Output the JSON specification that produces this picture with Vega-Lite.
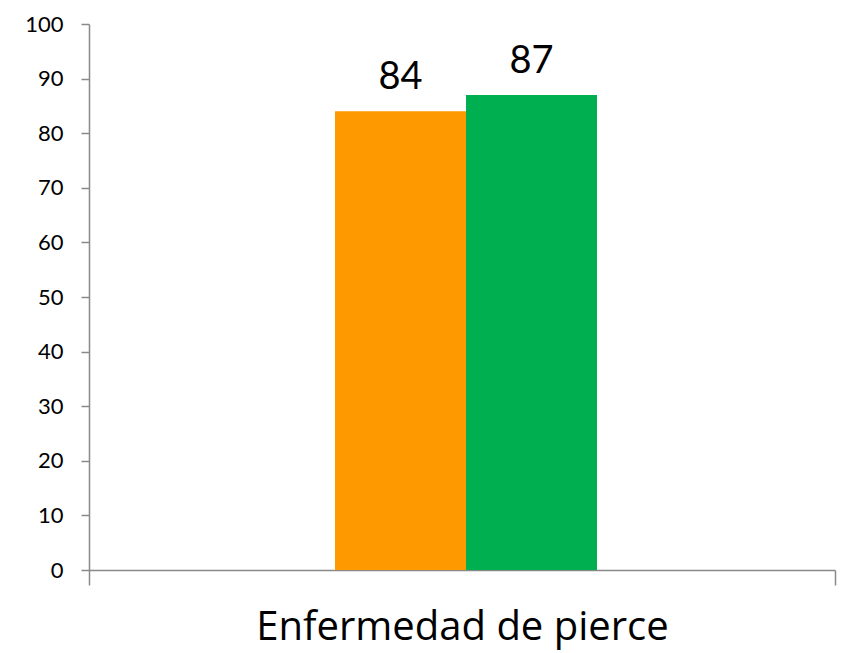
{
  "$schema": "https://vega.github.io/schema/vega-lite/v6.json",
  "autosize": "none",
  "width": 746,
  "height": 546,
  "padding": {"left": 89, "top": 24, "right": 13, "bottom": 83},
  "background": "white",
  "config": {"view": {"stroke": null}, "font": "Lato"},
  "data": {"values": [
    {"categoria": "Enfermedad de pierce", "serie": "A", "valor": 84},
    {"categoria": "Enfermedad de pierce", "serie": "B", "valor": 87}
  ]},
  "encoding": {
    "x": {"field": "categoria", "type": "nominal",
      "scale": {"paddingInner": 0, "paddingOuter": 0},
      "axis": {"title": null, "labelAngle": 0, "domainColor": "#898989", "domainWidth": 1.5,
        "tickColor": "#898989", "tickWidth": 1.5, "tickSize": 15, "tickBand": "extent",
        "labelFontSize": 40, "labelColor": "#000000", "labelPadding": 22, "labelLimit": 0, "labelFont": "Open Sans"}},
    "xOffset": {"field": "serie", "type": "nominal", "scale": {"range": [246, 508], "paddingInner": 0, "paddingOuter": 0}},
    "y": {"field": "valor", "type": "quantitative",
      "scale": {"domain": [0, 100], "nice": false},
      "axis": {"title": null, "values": [0,10,20,30,40,50,60,70,80,90,100], "grid": false,
        "domainColor": "#898989", "domainWidth": 1.5, "tickColor": "#898989", "tickWidth": 1.5,
        "tickSize": 8, "labelPadding": 18, "labelFontSize": 22, "labelColor": "#000000", "labelFont": "Lato"}}
  },
  "layer": [
    {"mark": {"type": "bar"},
     "encoding": {"color": {"field": "serie", "type": "nominal",
       "scale": {"domain": ["A", "B"], "range": ["#FF9900", "#00B050"]}, "legend": null}}},
    {"mark": {"type": "text", "baseline": "alphabetic", "dy": -22, "fontSize": 38, "font": "Lato", "color": "#000000"},
     "encoding": {"text": {"field": "valor", "type": "quantitative"}}}
  ]
}
